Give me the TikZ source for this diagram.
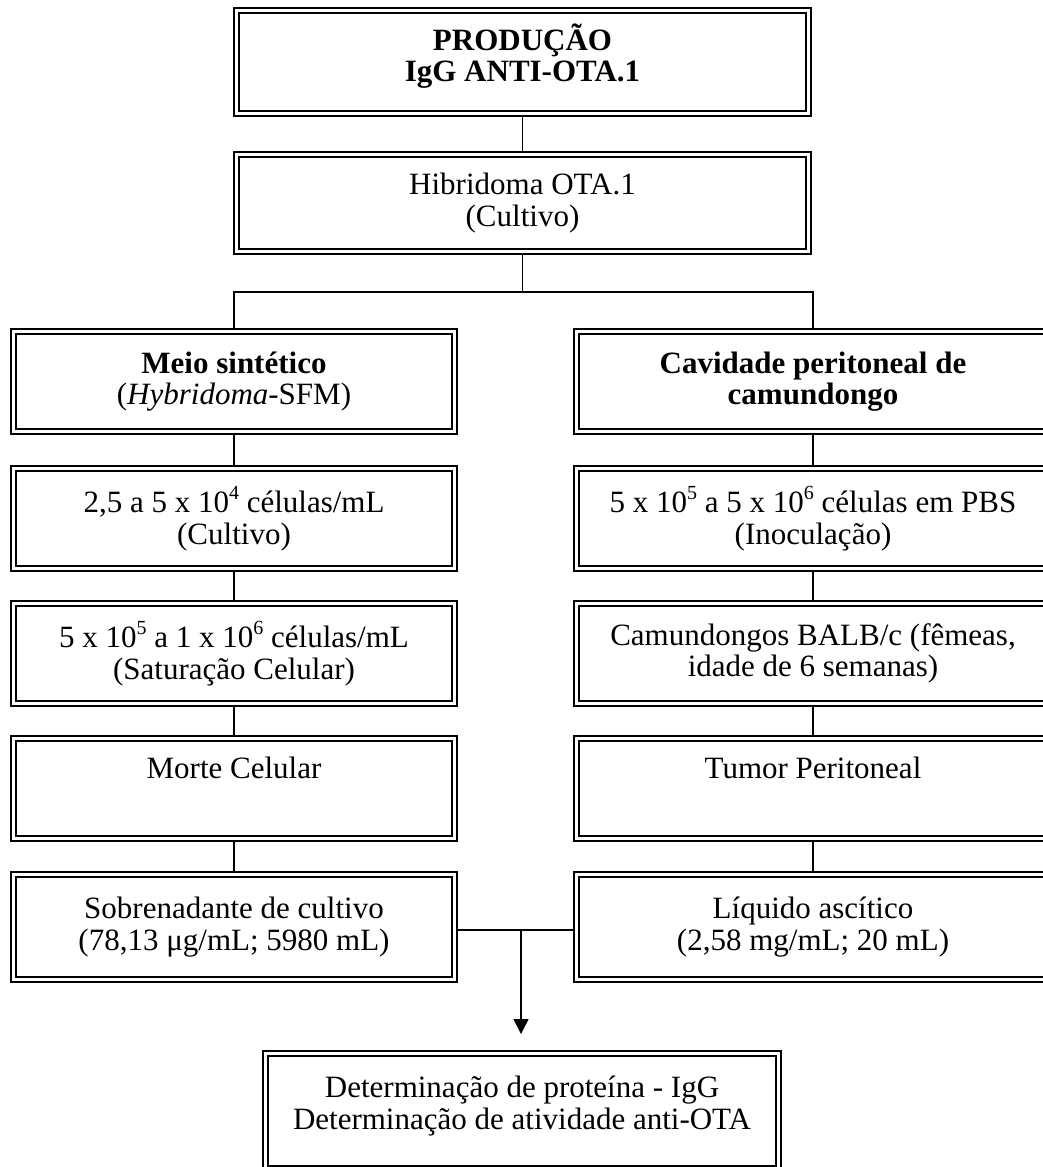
\documentclass[tikz,border=0pt]{standalone}
\usepackage{fontspec}
\setmainfont{Liberation Serif}
\usetikzlibrary{arrows.meta}
\newcommand\sps[1]{\raisebox{0.42em}{\fontsize{20}{20}\selectfont #1}}
\begin{document}
\begin{tikzpicture}[x=1pt,y=-1pt,
  bx/.style={draw=black, line width=1.7pt, double=white, double distance=3.2pt,
    inner sep=0pt, outer sep=3.3pt, align=center,
    font=\fontsize{31}{31.5}\selectfont},
  lbox/.style={bx, minimum width=441.4pt},
  rbox/.style={bx, minimum width=473.4pt},
  rowh/.style={minimum height=100.4pt},
  ln/.style={line width=1.5pt}]
\useasboundingbox (0,0) rectangle (1043,1167);

\node[bx, minimum width=572.4pt, minimum height=103.4pt] (top) at (522.5,62)
  {\textbf{PRODUÇÃO}\\\textbf{IgG ANTI-OTA.1}\rule[-19pt]{0pt}{1pt}};
\node[bx, minimum width=572.4pt, minimum height=97.4pt] (hib) at (522.5,203)
  {Hibridoma OTA.1\\(Cultivo)};

\node[lbox, rowh] (L1) at (234,381.5) {\textbf{Meio sintético}\\(\textit{Hybridoma}-SFM)};
\node[lbox, rowh] (L2) at (234,518.5) {2,5 a 5 x 10\sps{4} células/mL\\(Cultivo)};
\node[lbox, rowh] (L3) at (234,653.5) {5 x 10\sps{5} a 1 x 10\sps{6} células/mL\\(Saturação Celular)};
\node[lbox, rowh] (L4) at (234,788.5) {Morte Celular\\\strut};
\node[lbox, minimum height=105.4pt] (L5) at (234,927) {Sobrenadante de cultivo\\(78,13 μg/mL; 5980 mL)};

\node[rbox, rowh] (R1) at (813,381.5) {\textbf{Cavidade peritoneal de}\\\textbf{camundongo}};
\node[rbox, rowh] (R2) at (813,518.5) {5 x 10\sps{5} a 5 x 10\sps{6} células em PBS\\(Inoculação)};
\node[rbox, rowh] (R3) at (813,653.5) {Camundongos BALB/c (fêmeas,\\idade de 6 semanas)};
\node[rbox, rowh] (R4) at (813,788.5) {Tumor Peritoneal\\\strut};
\node[rbox, minimum height=105.4pt] (R5) at (813,927) {Líquido ascítico\\(2,58 mg/mL; 20 mL)};

\node[bx, minimum width=513.4pt, minimum height=115.4pt] (fin) at (522,1111)
  {Determinação de proteína - IgG\\Determinação de atividade anti-OTA\rule[-17pt]{0pt}{1pt}};

\coordinate (br) at (522.5,292);
\coordinate (j) at (521,930);
\coordinate (jt) at (521,1034);

\draw[ln] (top) -- (hib);
\draw[ln] (hib.south) -- (br);
\draw[ln] (L1.north) |- (br) -| (R1.north);
\draw[ln] (L1) -- (L2);
\draw[ln] (L2) -- (L3);
\draw[ln] (L3) -- (L4);
\draw[ln] (L4) -- (L5);
\draw[ln] (R1) -- (R2);
\draw[ln] (R2) -- (R3);
\draw[ln] (R3) -- (R4);
\draw[ln] (R4) -- (R5);
\draw[ln] (L5.east |- j) -- (R5.west |- j);
\draw[ln, -{Triangle[width=15pt,length=15pt]}] (j) -- (jt);
\end{tikzpicture}
\end{document}
